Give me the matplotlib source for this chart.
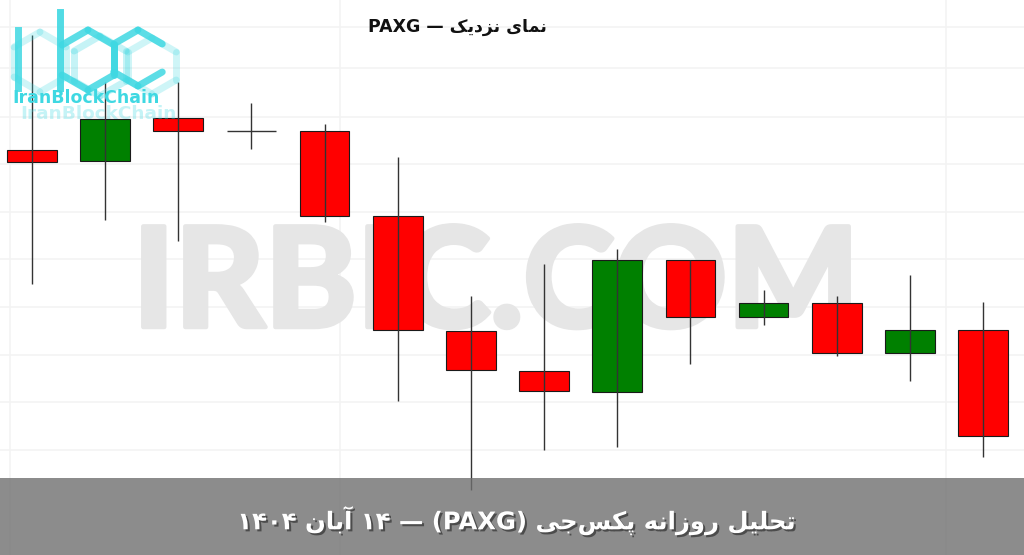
import matplotlib
matplotlib.use("Agg")
import matplotlib.pyplot as plt
import matplotlib.patheffects as pe
from matplotlib.patches import Rectangle
import numpy as np

# ---------------- data ----------------
opens  = [4020.0, 4017.8, 4026.4, 4023.8, 4023.8, 4006.8, 3983.8, 3975.8, 3971.6, 3998.0, 3986.6, 3989.4, 3979.4, 3984.0]
highs  = [4043.0, 4033.6, 4033.6, 4029.4, 4025.2, 4018.6, 3990.8, 3997.2, 4000.2, 3998.0, 3992.0, 3990.8, 3995.0, 3989.6]
lows   = [3993.2, 4006.0, 4001.8, 4020.2, 4005.6, 3969.8, 3952.0, 3960.0, 3960.6, 3977.2, 3985.0, 3978.8, 3973.8, 3958.6]
closes = [4017.6, 4026.2, 4023.8, 4023.8, 4006.8, 3984.0, 3976.0, 3971.8, 3998.0, 3986.6, 3989.4, 3979.4, 3984.0, 3962.8]
title_words = ["نمای", "نزدیک", "—", "PAXG"]
banner_words = ["تحلیل", "روزانه", "پکس‌جی", "(PAXG)", "—", "۱۴", "آبان", "۱۴۰۴"]
watermark = "IRBIC.COM"
logo_text = "IranBlockChain"

# ---------------- simple Persian shaping ----------------
FORMS = {
    "ا": ("\uFE8D", "\uFE8E"), "آ": ("\uFE81", "\uFE82"),
    "د": ("\uFEA9", "\uFEAA"), "ر": ("\uFEAD", "\uFEAE"),
    "ز": ("\uFEAF", "\uFEB0"), "و": ("\uFEED", "\uFEEE"),
    "ب": ("\uFE8F", "\uFE90", "\uFE91", "\uFE92"),
    "پ": ("\uFB56", "\uFB57", "\uFB58", "\uFB59"),
    "ت": ("\uFE95", "\uFE96", "\uFE97", "\uFE98"),
    "ج": ("\uFE9D", "\uFE9E", "\uFE9F", "\uFEA0"),
    "ح": ("\uFEA1", "\uFEA2", "\uFEA3", "\uFEA4"),
    "س": ("\uFEB1", "\uFEB2", "\uFEB3", "\uFEB4"),
    "ک": ("\uFB8E", "\uFB8F", "\uFB90", "\uFB91"),
    "ل": ("\uFEDD", "\uFEDE", "\uFEDF", "\uFEE0"),
    "م": ("\uFEE1", "\uFEE2", "\uFEE3", "\uFEE4"),
    "ن": ("\uFEE5", "\uFEE6", "\uFEE7", "\uFEE8"),
    "ه": ("\uFEE9", "\uFEEA", "\uFEEB", "\uFEEC"),
    "ی": ("\uFBFC", "\uFBFD", "\uFBFE", "\uFBFF"),
}


def shape(word):
    out = []
    for i, ch in enumerate(word):
        if ch not in FORMS:
            if ch != "\u200c":
                out.append(ch)
            continue
        prev = word[i - 1] if i > 0 else None
        nxt = word[i + 1] if i + 1 < len(word) else None
        f = FORMS[ch]
        jp = prev in FORMS and len(FORMS[prev]) == 4
        jn = len(f) == 4 and nxt in FORMS
        if jp and jn:
            g = f[3]
        elif jp:
            g = f[1]
        elif jn:
            g = f[2]
        else:
            g = f[0]
        out.append(g)
    return "".join(reversed(out))


def rtl(words):
    res = []
    for w in reversed(words):
        if any(c in FORMS for c in w):
            res.append(shape(w))
        else:
            res.append(w)
    return " ".join(res)


# ---------------- figure ----------------
fig = plt.figure(figsize=(10.24, 5.55), dpi=100)
fig.patch.set_facecolor("white")
ax = fig.add_axes([0, 0, 1, 1])
ax.set_xlim(-0.437, 13.56)
ax.set_ylim(3939, 4050)
for s in ax.spines.values():
    s.set_visible(False)
ax.tick_params(length=0, labelleft=False, labelbottom=False)
ax.set_yticks([4044.6, 4036.4, 4026.6, 4017.2, 4007.6, 3998.2, 3988.6, 3979.0, 3969.6, 3960.0])
ax.set_xticks([-0.3, 4.21, 12.5])
ax.grid(True, color="#f3f3f3", linewidth=1.2, zorder=0)
ax.set_axisbelow(True)

# watermark (fit to width of reference box)
wm = ax.text(496 / 1024, 1 - 327 / 555, watermark, transform=ax.transAxes, ha="center", va="baseline",
             fontsize=100, fontweight="black", color="#e6e6e6", family=["Lato", "DejaVu Sans"], zorder=1)
r = fig.canvas.get_renderer()
bb = wm.get_window_extent(renderer=r)
wm.set_fontsize(100 * 726 / bb.width)
wm.set_path_effects([pe.withStroke(linewidth=3.2, foreground="#e6e6e6")])

x = np.arange(len(opens))
o = np.array(opens); c = np.array(closes); h = np.array(highs); l = np.array(lows)
up = c > o
down = c < o
doji = c == o
w = 0.68
ax.bar(x[up], (c - o)[up], bottom=o[up], width=w, color="#008000", edgecolor="#1a1a1a", linewidth=0.8, zorder=2)
ax.bar(x[down], (o - c)[down], bottom=c[down], width=w, color="#ff0000", edgecolor="#1a1a1a", linewidth=0.8, zorder=2)
ax.hlines(o[doji], x[doji] - w / 2, x[doji] + w / 2, color="#333333", linewidth=1, zorder=3)
ax.vlines(x, l, h, color="#333333", linewidth=1, zorder=3)

# ---------------- overlay (pixel coordinates) ----------------
ov = fig.add_axes([0, 0, 1, 1], zorder=5)
ov.set_xlim(0, 1024)
ov.set_ylim(555, 0)
ov.axis("off")
ov.patch.set_alpha(0)

# logo
cyan = "#3fd8e2"
def hexagon(cx, cy, r, skip=(), alpha=0.85, lw=5):
    ang = np.deg2rad(np.arange(90, 450, 60))
    pts = [(cx + r * np.cos(a), cy - r * np.sin(a)) for a in ang]
    for i in range(6):
        if i in skip:
            continue
        p1 = pts[i]; p2 = pts[(i + 1) % 6]
        ov.plot([p1[0], p2[0]], [p1[1], p2[1]], color=cyan, lw=lw, solid_capstyle="round", alpha=alpha)

# faint background hexagons
hexagon(40, 62, 30, alpha=0.25)
hexagon(100, 66, 30, alpha=0.3)
hexagon(152, 66, 28, alpha=0.25)
ov.plot([18, 18], [30, 88], color=cyan, lw=5, alpha=0.85)
ov.plot([60, 60], [12, 88], color=cyan, lw=5, alpha=0.9)
hexagon(88, 60, 30, skip=(1,))
hexagon(138, 58, 28, skip=(4,))
ov.text(12, 98, logo_text, ha="left", va="center", fontsize=12.5, fontweight="bold",
        color=cyan, family="DejaVu Sans")
ov.text(20, 114, logo_text, ha="left", va="center", fontsize=13.3, fontweight="bold",
        color=cyan, alpha=0.3, family="DejaVu Sans")

# title
ov.text(457, 27, rtl(title_words), ha="center", va="center", fontsize=12.5,
        fontweight="bold", color="#111111", family=["DejaVu Sans"])

# banner
ov.add_patch(Rectangle((0, 478), 1024, 77, facecolor="#707070", alpha=0.8, edgecolor="none"))
ov.text(516, 521, rtl(banner_words), ha="center", va="center", fontsize=17.5,
        fontweight="bold", color="white", family=["DejaVu Sans"],
        path_effects=[pe.SimplePatchShadow(offset=(1.5, -1.5), shadow_rgbFace="black", alpha=0.45), pe.Normal()])

fig.savefig("out.png", dpi=100, facecolor="white")
